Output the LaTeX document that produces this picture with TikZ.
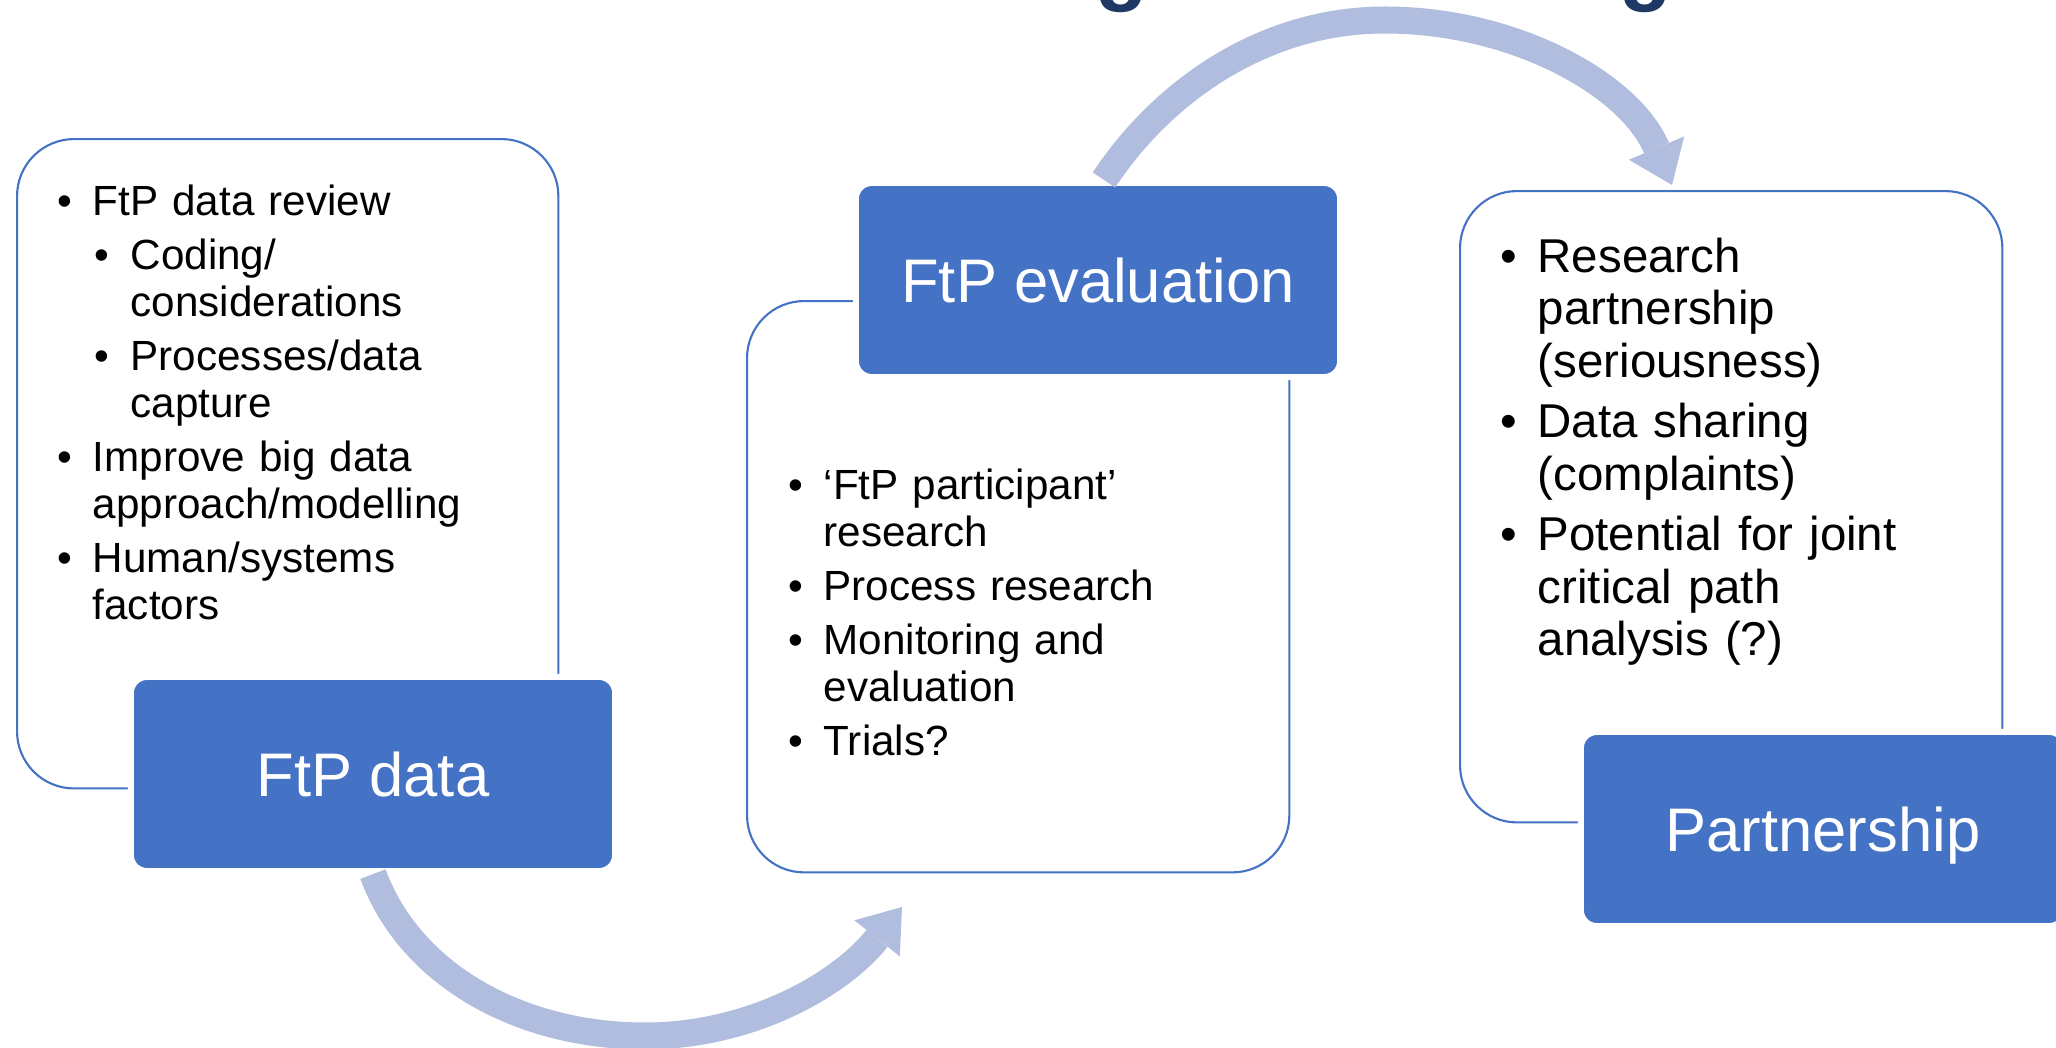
\documentclass[tikz,border=0pt]{standalone}
\usepackage{fontspec}
\setmainfont{Liberation Sans}
\usetikzlibrary{arrows.meta,calc}

\definecolor{boxblue}{RGB}{68,114,196}
\definecolor{arrowblue}{RGB}{176,189,222}
\definecolor{titlenavy}{RGB}{31,56,100}

\newlength{\bulind}
\setlength{\bulind}{0.35cm}
\newcommand{\itm}[1]{\hangindent=\bulind\hangafter=1\noindent\makebox[\bulind][l]{\textbullet}#1\par}
\newcommand{\subitm}[1]{\hangindent=0.73cm\hangafter=1\noindent\hspace*{0.37cm}\makebox[0.36cm][l]{\textbullet}#1\par}

\tikzset{
  outlinebox/.style={draw=boxblue, line width=0.6pt, rounded corners=0.57cm, anchor=north west, inner sep=0pt},
  filledbox/.style={fill=boxblue, draw=white, line width=0.06cm, rounded corners=0.16cm,
    minimum width=4.84cm, minimum height=1.94cm, text=white,
    font=\fontsize{17.5}{17.5}\selectfont, text height=12.6pt, text depth=0pt},
  listtext/.style={anchor=base west, inner sep=0pt, text width=6cm,
    font=\fontsize{12}{13.37}\selectfont},
  bigarrow/.style={draw=arrowblue, line width=0.27cm},
  titlefrag/.style={anchor=base, inner sep=0pt, text=titlenavy, font=\fontsize{24.5}{24.5}\selectfont\bfseries}
}

\begin{document}
\begin{tikzpicture}[x=0.01cm, y=-0.01cm]
\useasboundingbox (0,0) rectangle (2056,1048);

\node[titlefrag] (TitleA) at (1122,-6) {g};
\node[titlefrag] (TitleB) at (1646,-6) {g};

\node[outlinebox, minimum width=5.41cm, minimum height=6.49cm] (DataFrame) at (16,138) {};
\node[outlinebox, minimum width=5.42cm, minimum height=5.71cm] (EvalFrame) at (746,300) {};
\node[outlinebox, minimum width=5.42cm, minimum height=6.31cm] (PartnerFrame) at (1459,190) {};

\node[filledbox] (DataBox) at (373,774) {FtP data};
\node[filledbox] (EvalBox) at (1098,280) {FtP evaluation};
\node[filledbox] (PartnerBox) at (1823,829) {Partnership};

\node[listtext] (DataList) at (57,215) {\setlength{\parskip}{0.07cm}%
  \itm{FtP data review}%
  \subitm{Coding/\newline considerations}%
  \subitm{Processes/data\newline capture}%
  \itm{Improve big data\newline approach/modelling}%
  \itm{Human/systems\newline factors}};

\node[listtext] (EvalList) at (788,499) {\setlength{\parskip}{0.07cm}%
  \itm{‘FtP participant’\newline research}%
  \itm{Process research}%
  \itm{Monitoring and\newline evaluation}%
  \itm{Trials?}};

\node[listtext, font=\fontsize{13.5}{14.94}\selectfont] (PartnerList) at (1500,272) {\setlength{\parskip}{0.08cm}\setlength{\bulind}{0.37cm}%
  \itm{Research\newline partnership\newline (seriousness)}%
  \itm{Data sharing\newline (complaints)}%
  \itm{Potential for joint\newline critical path\newline analysis (?)}};

\coordinate (EvalTip) at (902,907);
\coordinate (PartnerTip) at (1672,185);

\draw[bigarrow, -{Triangle[width=0.58cm, length=0.4cm, line width=0pt]}]
  (DataBox.south) .. controls (410,975) and (520,1036) .. (645,1036)
  .. controls (750,1036) and (840,985) .. (EvalTip);
\draw[bigarrow, -{Triangle[width=0.6cm, length=0.4cm, line width=0pt]}]
  ($(EvalBox.north)+(6,0)$) .. controls (1160,95) and (1260,20) .. (1385,20)
  .. controls (1515,20) and (1630,85) .. (PartnerTip);

\end{tikzpicture}
\end{document}
